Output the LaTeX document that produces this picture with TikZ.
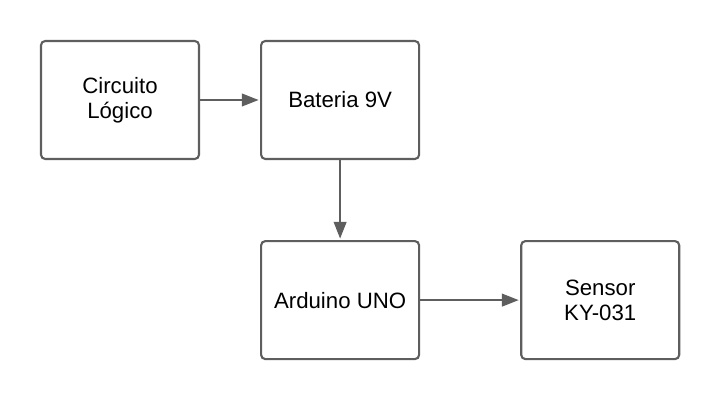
\documentclass[tikz,border=0pt]{standalone}
\usepackage{fontspec}
\setmainfont{Liberation Sans}
\usetikzlibrary{arrows.meta}
\usetikzlibrary{positioning}
\definecolor{edgegray}{HTML}{5E5E5E}

\begin{document}
\begin{tikzpicture}[
    block/.style={rectangle, draw=edgegray, line width=1.5pt, rounded corners=3pt,
      minimum width=3.95cm, minimum height=2.95cm, align=center,
      font=\fontsize{15.8}{17.5}\selectfont},
    link/.style={draw=edgegray, line width=1.5pt, shorten >=1pt, -{Triangle[length=12pt, width=9pt]}}
  ]
      \useasboundingbox (0,0) rectangle (18,-10);
      \node[block] (circuito) at (3,-2.5) {Circuito\\Lógico};
      \node[block, right=1.5cm of circuito] (bateria) {Bateria 9V};
      \node[block, below=2cm of bateria] (arduino) {Arduino UNO};
      \node[block, right=2.5cm of arduino] (sensor) {Sensor\\KY-031};

      \draw[link] (circuito) -- (bateria);
      \draw[link] (bateria) -- (arduino);
      \draw[link] (arduino) -- (sensor);
    \end{tikzpicture}
\end{document}
